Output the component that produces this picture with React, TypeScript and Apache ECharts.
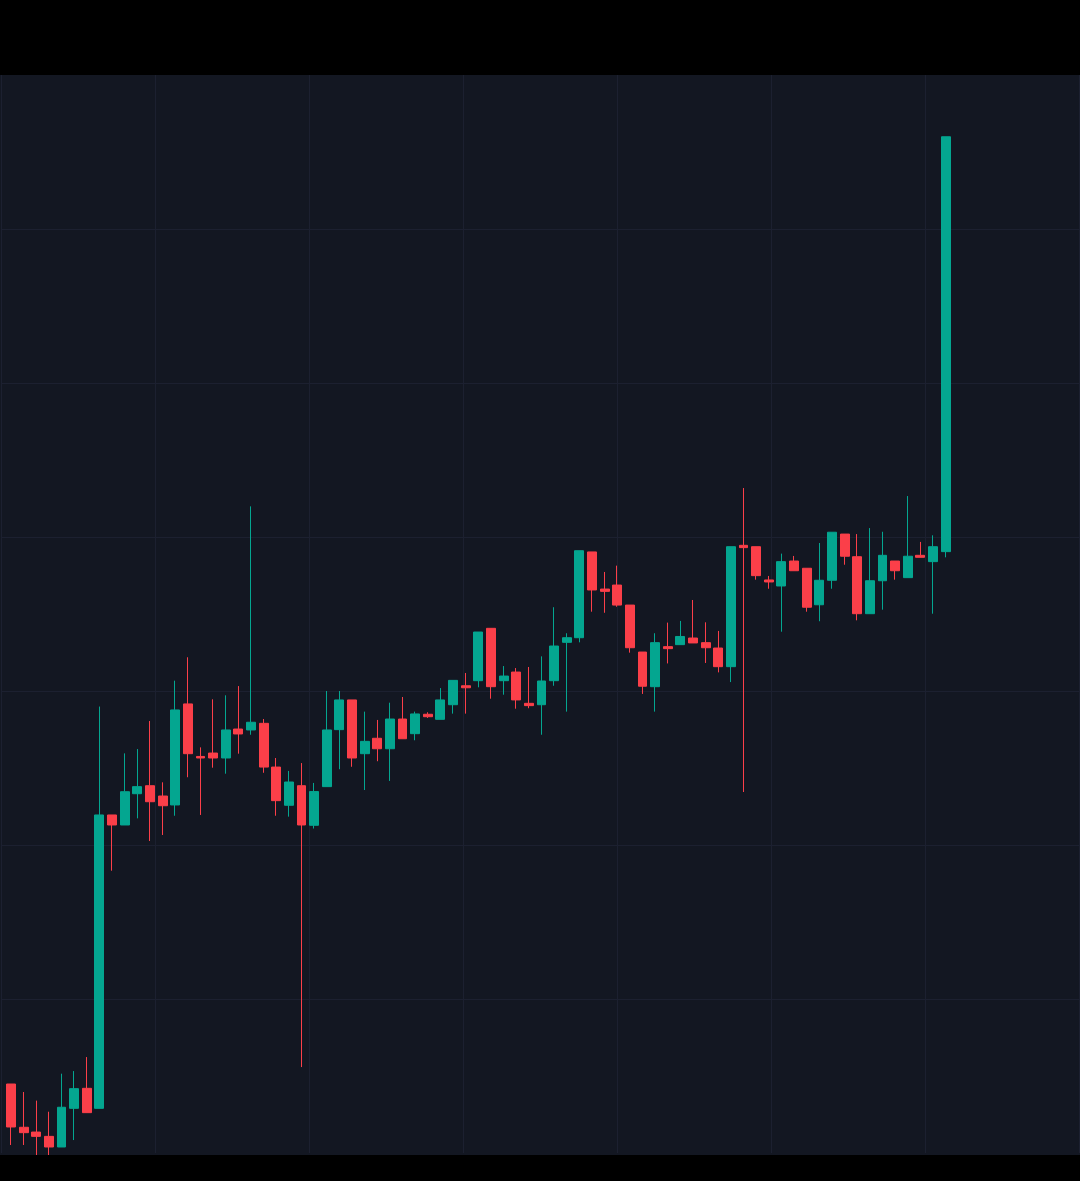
import React, { useEffect, useRef } from "react";
import * as echarts from "echarts";

// Candle values (open, close, low, high)
const opens = [
  4.48, 1.67, 1.36, 1.08, 0.39, 2.9, 4.2, 2.9, 21.95, 21.3,
  23.33, 23.85, 23.18, 22.6, 29.16, 25.75, 25.97, 25.65, 27.53, 27.47,
  27.9, 25.06, 22.58, 23.85, 21.28, 23.79, 27.49, 29.42, 25.93, 26.93,
  26.25, 28.18, 27.23, 28.49, 28.16, 29.11, 30.34, 30.67, 34.07, 30.67,
  31.23, 29.2, 29.11, 30.67, 33.16, 33.46, 39.03, 36.62, 36.88, 35.58,
  32.53, 30.28, 32.88, 33.01, 33.44, 33.14, 32.79, 31.58, 39.46, 39.37,
  37.21, 36.82, 38.44, 37.97, 35.6, 37.19, 40.19, 38.72, 35.02, 37.16,
  38.44, 37.36, 38.81, 38.4, 39.05,
];
const closes = [
  1.69, 1.32, 1.08, 0.39, 2.97, 4.18, 2.62, 21.95, 21.3, 23.46,
  23.79, 22.81, 22.55, 28.77, 25.93, 25.65, 25.65, 27.47, 27.21, 27.97,
  25.06, 22.88, 24.09, 21.3, 23.47, 27.47, 29.42, 25.65, 26.73, 26.25,
  28.18, 26.9, 28.51, 28.33, 29.42, 30.69, 30.21, 33.83, 30.28, 30.97,
  29.42, 29.05, 30.65, 32.92, 33.46, 39.11, 36.56, 36.47, 35.58, 32.81,
  30.31, 33.14, 32.75, 33.54, 33.12, 32.81, 31.58, 39.37, 39.31, 37.49,
  37.08, 38.4, 37.81, 35.44, 37.19, 40.31, 38.75, 35.02, 37.16, 38.81,
  37.81, 38.75, 38.68, 39.37, 65.99,
];
const lows = [
  0.52, 0.52, -0.13, -0.13, 0.39, 0.84, 2.62, 2.9, 18.33, 21.3,
  21.73, 20.26, 20.65, 21.9, 24.4, 21.95, 25.02, 24.63, 25.93, 27.16,
  24.69, 21.9, 21.84, 5.58, 21.07, 23.79, 24.92, 25.08, 23.57, 25.44,
  24.16, 26.9, 26.8, 28.25, 28.16, 28.53, 28.53, 30.24, 29.5, 29.76,
  28.85, 28.88, 27.16, 30.34, 28.66, 33.16, 35.15, 35.08, 35.47, 32.49,
  29.81, 28.66, 31.79, 33.01, 33.12, 31.82, 31.21, 30.58, 23.44, 37.23,
  36.64, 33.85, 37.81, 35.15, 34.53, 36.64, 38.2, 34.59, 35.02, 35.28,
  37.23, 37.36, 38.68, 35.02, 38.68,
];
const highs = [
  4.48, 3.96, 3.4, 2.68, 5.15, 5.32, 6.23, 28.99, 21.95, 25.95,
  26.23, 28.05, 24.07, 30.67, 32.19, 26.34, 29.46, 29.72, 30.32, 41.99,
  28.18, 25.65, 24.81, 25.32, 24.03, 30.0, 30.0, 29.42, 28.66, 28.12,
  29.24, 29.61, 28.66, 28.62, 30.19, 30.69, 31.17, 33.83, 34.07, 31.62,
  31.49, 31.56, 32.25, 35.44, 33.75, 39.11, 39.03, 37.73, 38.14, 35.58,
  32.53, 33.75, 34.44, 34.55, 35.91, 34.46, 33.9, 39.37, 43.18, 39.37,
  37.47, 38.92, 38.77, 37.97, 39.61, 40.31, 40.19, 40.19, 40.58, 40.34,
  38.44, 42.66, 39.68, 40.11, 65.99,
];
// Empty slots to the right of the last candle
const padSlots = 10;

const UP = "#04a690";
const DOWN = "#fb3f49";

export default function App() {
  const ref = useRef<HTMLDivElement>(null);

  useEffect(() => {
    if (!ref.current) return;
    const chart = echarts.init(ref.current, undefined, { renderer: "svg" });

    const total = opens.length + padSlots;
    const categories = Array.from({ length: total }, (_, i) => String(i + 1));
    const candleData = opens.map((o, i) => [o, closes[i], lows[i], highs[i]]);

    const slot = 12.63;
    const firstCenter = 11;
    const leftA = firstCenter - slot / 2;
    const widthA = slot * total;

    chart.setOption({
      animation: false,
      backgroundColor: "#000000",
      grid: [
        // background panel
        { left: 0, right: 0, top: 75, bottom: 26, show: true, backgroundColor: "#131722", borderWidth: 0 },
        // grid lines
        { left: 1, right: 0, top: 75, bottom: 28, show: false },
        // candles
        { left: leftA, width: widthA, top: 75, bottom: 26, show: false },
      ],
      xAxis: [
        { gridIndex: 0, type: "value", min: 0, max: 1, show: false },
        {
          gridIndex: 1,
          type: "value",
          min: 0,
          max: 1079,
          interval: 154,
          axisLine: { show: false },
          axisTick: { show: false },
          axisLabel: { show: false },
          splitLine: { show: true, showMaxLine: false, lineStyle: { color: "#1c2030", width: 1 } },
        },
        {
          gridIndex: 2,
          type: "category",
          data: categories,
          boundaryGap: true,
          axisLine: { show: false },
          axisTick: { show: false },
          axisLabel: { show: false },
          splitLine: { show: false },
        },
      ],
      yAxis: [
        { gridIndex: 0, type: "value", min: 0, max: 1, show: false },
        {
          gridIndex: 1,
          type: "value",
          min: 0,
          max: 7,
          interval: 1,
          axisLine: { show: false },
          axisTick: { show: false },
          axisLabel: { show: false },
          splitLine: {
            show: true,
            showMinLine: false,
            showMaxLine: false,
            lineStyle: { color: "#1c2030", width: 1 },
          },
        },
        {
          gridIndex: 2,
          type: "value",
          min: -0.13,
          max: 70,
          axisLine: { show: false },
          axisTick: { show: false },
          axisLabel: { show: false },
          splitLine: { show: false },
        },
      ],
      series: [
        {
          type: "candlestick",
          xAxisIndex: 2,
          yAxisIndex: 2,
          data: candleData,
          barWidth: 9.4,
          clip: true,
          itemStyle: {
            color: UP,
            color0: DOWN,
            borderColor: UP,
            borderColor0: DOWN,
            borderWidth: 1,
          },
        },
      ],
    });

    return () => chart.dispose();
  }, []);

  return (
    <div
      ref={ref}
      style={{ position: "absolute", left: 0, top: 0, width: 1080, height: 1181 }}
    />
  );
}
